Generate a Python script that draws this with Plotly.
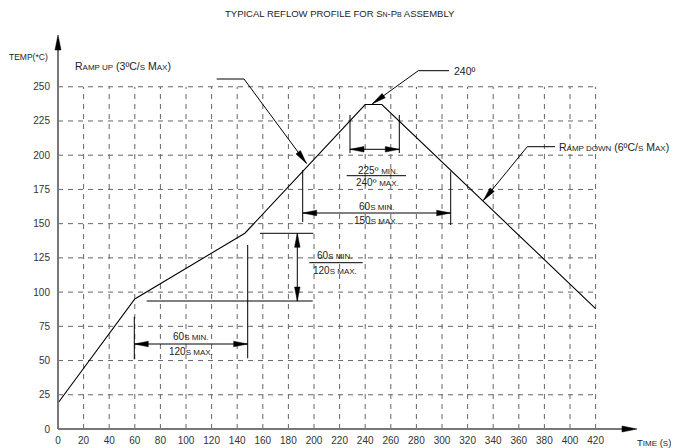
import math
import plotly.graph_objects as go

# ---------------- data ----------------
profile_time = [0, 60, 146, 240, 253, 420]
profile_temp = [19, 95, 143, 237, 237, 88]

x_ticks = list(range(0, 421, 20))
y_ticks = list(range(0, 251, 25))
grid_x = list(range(20, 421, 20))
grid_y = list(range(25, 251, 25))

# ---------------- geometry helpers ----------------
# the page body adds an 8px margin, so the figure is drawn 8px smaller and
# every reference-pixel position is shifted by OFF.
OFF = 8
W, H = 671, 440
ML, MR, MT, MB = 40, 0, 22, 5
PW = W - ML - MR
PH = H - MT - MB
X0PX, Y0PX = 58, 429          # reference-pixel position of the data origin
SX, SY = 1.28, 1.369          # pixels per data unit
XR = [(ML + OFF - X0PX) / SX, (W - MR + OFF - X0PX) / SX]
YR = [(Y0PX - (H - MB + OFF)) / SY, (Y0PX - (MT + OFF)) / SY]


def X(px):
    return (px - X0PX) / SX


def Y(py):
    return (Y0PX - py) / SY


def PX(px):
    return (px - OFF - ML) / PW


def PY(py):
    return (H - MB - (py - OFF)) / PH


FONT = "Liberation Sans"
TXT = "#222"
shapes = []
annotations = []


def line(x0, y0, x1, y1, color="black", width=1, dash=None, layer="above"):
    d = dict(type="line", xref="x", yref="y", x0=x0, y0=y0, x1=x1, y1=y1,
             line=dict(color=color, width=width), layer=layer)
    if dash:
        d["line"]["dash"] = dash
    shapes.append(d)


def head(tx, ty, fx, fy, L=14, Wd=5.5, color="black"):
    dx = (tx - fx) * SX
    dy = (ty - fy) * SY
    n = math.hypot(dx, dy)
    ux, uy = dx / n, dy / n
    qx, qy = -uy, ux
    bx, by = -ux * L, -uy * L
    p1 = (bx + qx * Wd / 2, by + qy * Wd / 2)
    p2 = (bx - qx * Wd / 2, by - qy * Wd / 2)
    path = f"M0,0 L{p1[0]:.2f},{p1[1]:.2f} L{p2[0]:.2f},{p2[1]:.2f} Z"
    shapes.append(dict(type="path", xref="x", yref="y", xsizemode="pixel",
                       ysizemode="pixel", xanchor=tx, yanchor=ty, path=path,
                       fillcolor=color, line=dict(color=color, width=0.5),
                       layer="above"))


def arrow(x0, y0, x1, y1, both=False):
    line(x0, y0, x1, y1)
    head(x1, y1, x0, y0)
    if both:
        head(x0, y0, x1, y1)


def sc(s, size=8):
    return f"<span style='font-size:{size}px'>{s}</span>"


def text(px, py, s, size=10, anchor="left"):
    annotations.append(dict(x=X(px), y=Y(py), xref="x", yref="y", text=s,
                            showarrow=False, xanchor=anchor, yanchor="middle",
                            font=dict(family=FONT, size=size, color=TXT)))


def ptext(px, py, s, size=10, anchor="left"):
    annotations.append(dict(x=PX(px), y=PY(py), xref="paper", yref="paper", text=s,
                            showarrow=False, xanchor=anchor, yanchor="middle",
                            font=dict(family=FONT, size=size, color=TXT)))


# ---------------- grid ----------------
for gx in grid_x:
    line(gx, 0, gx, 250, color="#666", width=1, dash="5px,5px", layer="below")
for gy in grid_y:
    line(0, gy, 420, gy, color="#666", width=1, dash="5px,5px", layer="below")

# ---------------- axes with arrows ----------------
line(0, 0, 0, Y(47), color="#777", width=2)
head(0, Y(35), 0, 0, L=15, Wd=6)
line(0, 0, X(624), 0, color="#777", width=2)
head(X(637), 0, 0, 0, L=15, Wd=6)

# ---------------- annotation geometry ----------------
# Ramp up leader
line(X(216.7), Y(79), X(244), Y(79))
arrow(X(244), Y(79), X(306.5), Y(163.5))
# 240 leader
line(X(418.3), Y(70.7), X(449), Y(70.7))
arrow(X(418.3), Y(70.7), X(372.3), Y(103.8))
# Ramp down leader
line(X(527.3), Y(146.7), X(555), Y(146.7))
arrow(X(527.3), Y(146.7), X(483.3), Y(200.5))

# peak window 225/240
line(X(350), Y(115), X(350), Y(153))
line(X(399.3), Y(115), X(399.3), Y(153))
arrow(X(350), Y(149.3), X(399.3), Y(149.3), both=True)
line(X(346.7), Y(175.7), X(406), Y(175.7))

# 60s / 150s
line(X(302.7), Y(170), X(302.7), Y(222))
line(X(450.7), Y(171.5), X(450.7), Y(225))
arrow(X(302.7), Y(213), X(450.7), Y(213), both=True)

# 60s / 120s vertical dimension
line(X(260), Y(233.3), X(313.3), Y(233.3))
line(X(146.7), Y(301), X(312.7), Y(301))
arrow(X(297.3), Y(233.3), X(297.3), Y(301), both=True)
line(X(309.3), Y(262.7), X(362.7), Y(262.7))

# 60s / 120s horizontal dimension
line(X(134.3), Y(316.7), X(134.3), Y(359.3))
line(X(247.7), Y(245), X(247.7), Y(358.3))
arrow(X(134.3), Y(344), X(247.7), Y(344), both=True)

# ---------------- texts ----------------
ptext(340, 13, "TYPICAL REFLOW PROFILE FOR S" + sc("N", 7) + "-P" + sc("B", 7) + " ASSEMBLY",
      size=9.5, anchor="center")
ptext(7, 57, "TEMP(*C)", size=8.5)
ptext(635, 442.7, "T" + sc("IME") + " (" + sc("S") + ")", size=9.5)
text(73, 66, "R" + sc("AMP UP") + " (3ºC/" + sc("S") + " M" + sc("AX") + ")", size=10.5)
text(452, 71, "240º", size=10.5)
text(557, 147, "R" + sc("AMP DOWN") + " (6ºC/" + sc("S") + " M" + sc("AX") + ")", size=10.5)
text(377.7, 170.5, "225º " + sc("MIN."), size=10, anchor="center")
text(377.7, 182.7, "240º " + sc("MAX."), size=10, anchor="center")
text(376.7, 206.5, "60" + sc("S MIN."), size=10, anchor="center")
text(376, 220.7, "150" + sc("S MAX."), size=10, anchor="center")
text(315, 255.5, "60" + sc("S MIN."), size=10)
text(311, 270, "120" + sc("S MAX."), size=10)
text(190.5, 336.5, "60" + sc("S MIN."), size=10, anchor="center")
text(191, 351.7, "120" + sc("S MAX."), size=10, anchor="center")

# ---------------- figure ----------------
fig = go.Figure()
fig.add_trace(go.Scatter(x=profile_time, y=profile_temp, mode="lines",
                         line=dict(color="black", width=1.1), hoverinfo="skip",
                         showlegend=False))

fig.update_layout(
    width=W, height=H,
    margin=dict(l=ML, r=MR, t=MT, b=MB, pad=0),
    paper_bgcolor="white", plot_bgcolor="white",
    shapes=shapes, annotations=annotations,
    showlegend=False,
    font=dict(family=FONT, size=10, color="#333"),
    xaxis=dict(range=XR, showgrid=False, zeroline=False, showline=False,
               anchor="free", position=PY(Y0PX), automargin=False,
               tickmode="array", tickvals=x_ticks, ticktext=[str(v) for v in x_ticks],
               ticks="outside", ticklen=2, tickcolor="rgba(0,0,0,0)",
               tickfont=dict(family=FONT, size=10, color="#333"), fixedrange=True),
    yaxis=dict(range=YR, showgrid=False, zeroline=False, showline=False,
               anchor="free", position=PX(X0PX), automargin=False,
               tickmode="array", tickvals=y_ticks, ticktext=[str(v) for v in y_ticks],
               ticks="outside", ticklen=6, tickcolor="rgba(0,0,0,0)",
               tickfont=dict(family=FONT, size=10, color="#333"), fixedrange=True),
)

fig.write_html("out.html")
